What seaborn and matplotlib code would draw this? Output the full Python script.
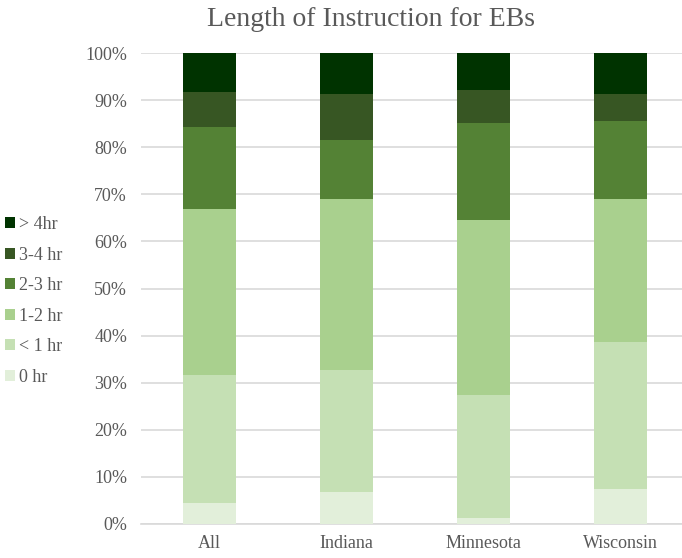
import numpy as np
import pandas as pd
import matplotlib
matplotlib.use("Agg")
import matplotlib.pyplot as plt
from matplotlib.patches import Patch
import seaborn as sns

# data (percent of respondents)
categories = ["All", "Indiana", "Minnesota", "Wisconsin"]
series_names = ["0 hr", "< 1 hr", "1-2 hr", "2-3 hr", "3-4 hr", "> 4hr"]
hr_0 = [4.5, 6.8, 1.3, 7.4]
hr_lt1 = [27.1, 25.9, 26.1, 31.2]
hr_1_2 = [35.3, 36.3, 37.1, 30.4]
hr_2_3 = [17.4, 12.5, 20.6, 16.6]
hr_3_4 = [7.4, 9.8, 7.0, 5.7]
hr_gt4 = [8.3, 8.7, 7.9, 8.7]

colors = ["#E2EFDA", "#C5E0B4", "#A9D08E", "#548235", "#375623", "#003300"]

df = pd.DataFrame({"Group": categories,
                   "0 hr": hr_0, "< 1 hr": hr_lt1, "1-2 hr": hr_1_2,
                   "2-3 hr": hr_2_3, "3-4 hr": hr_3_4, "> 4hr": hr_gt4})

sns.set_style("white")
plt.rcParams["font.family"] = ["Liberation Serif", "DejaVu Serif"]
text_col = "#595959"

fig = plt.figure(figsize=(6.82, 5.58), dpi=100)
ax = fig.add_axes([141 / 682, 1 - 524 / 558, 548 / 682, 471 / 558])

bottom = np.zeros(len(categories))
for name, col in zip(series_names, colors):
    sns.barplot(data=df, x="Group", y=name, color=col, bottom=bottom,
                width=0.39, ax=ax, saturation=1, linewidth=0,
                edgecolor="none", zorder=3)
    bottom = bottom + df[name].values

ax.set_ylim(0, 100)
ax.set_xlim(-0.5, 3.5)
ax.set_yticks(np.arange(0, 101, 10))
ax.set_yticklabels([f"{v}%" for v in range(0, 101, 10)])
ax.set_xlabel("")
ax.set_ylabel("")
ax.yaxis.grid(True, color="#D9D9D9", linewidth=1.2, zorder=0)
ax.set_axisbelow(True)
for s in ["top", "right", "left"]:
    ax.spines[s].set_visible(False)
ax.spines["bottom"].set_color("#D9D9D9")
ax.spines["bottom"].set_linewidth(1.2)
ax.tick_params(axis="both", length=0, labelsize=13, colors=text_col)
ax.tick_params(axis="x", pad=8)
ax.tick_params(axis="y", pad=10)

fig.text(371 / 682, 1 - 19 / 558, "Length of Instruction for EBs",
         ha="center", va="center", fontsize=20, color=text_col)

handles = [Patch(facecolor=c, edgecolor="none") for c in colors[::-1]]
fig.legend(handles, series_names[::-1], loc="center left",
           bbox_to_anchor=(-0.016, 1 - 301 / 558), frameon=False,
           fontsize=13, labelcolor=text_col, handlelength=0.55,
           handleheight=0.55, handletextpad=0.2, labelspacing=0.75)

fig.savefig("out.png", dpi=100)
